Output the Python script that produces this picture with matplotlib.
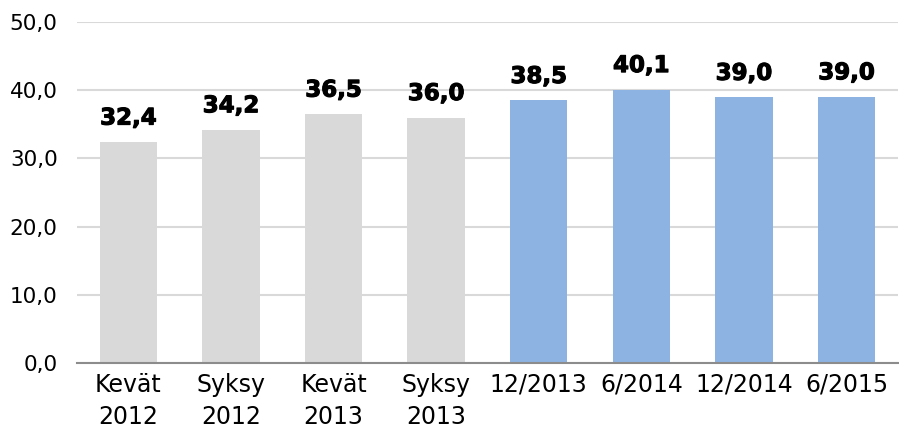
import matplotlib.pyplot as plt
import matplotlib.patheffects as pe

categories = ['Kevät\n2012', 'Syksy\n2012', 'Kevät\n2013', 'Syksy\n2013',
              '12/2013', '6/2014', '12/2014', '6/2015']
values = [32.4, 34.2, 36.5, 36.0, 38.5, 40.1, 38.96, 39.04]
colors = ['#D9D9D9'] * 4 + ['#8DB3E2'] * 4
yticks = [0, 10, 20, 30, 40, 50]

plt.rcParams['font.family'] = ['DejaVu Sans']

fig = plt.figure(figsize=(8.99, 4.36), dpi=100)
ax = fig.add_axes([0.0857, 0.1674, 0.913, 0.782])

x = range(len(categories))
bars = ax.bar(x, values, width=0.56, color=colors, zorder=2)

ax.set_ylim(0, 50)
ax.set_xlim(-0.5, len(categories) - 0.5)
ax.set_yticks(yticks)
ax.set_yticklabels(['{:.1f}'.format(v).replace('.', ',') for v in yticks])
ax.set_xticks(list(x))
ax.set_xticklabels(categories, linespacing=1.45)
ax.tick_params(axis='both', length=0, colors='#000000')
ax.tick_params(axis='y', pad=14, labelsize=15.5)
ax.tick_params(axis='x', pad=7, labelsize=17)

ax.grid(axis='y', color='#D9D9D9', linewidth=1.5, zorder=0)
for s in ['top', 'right', 'left']:
    ax.spines[s].set_visible(False)
ax.spines['bottom'].set_color('#8C8C8C')
ax.spines['bottom'].set_linewidth(1.5)
ax.spines['bottom'].set_zorder(3)

# data labels above bars
for rect, v in zip(bars, values):
    ax.annotate('{:.1f}'.format(v).replace('.', ','),
                xy=(rect.get_x() + rect.get_width() / 2, rect.get_height()),
                xytext=(0, 9), textcoords='offset points',
                ha='center', va='bottom', fontsize=16.5, fontweight='bold',
                path_effects=[pe.withStroke(linewidth=0.8, foreground='black')])

fig.savefig('out.png', dpi=100)
